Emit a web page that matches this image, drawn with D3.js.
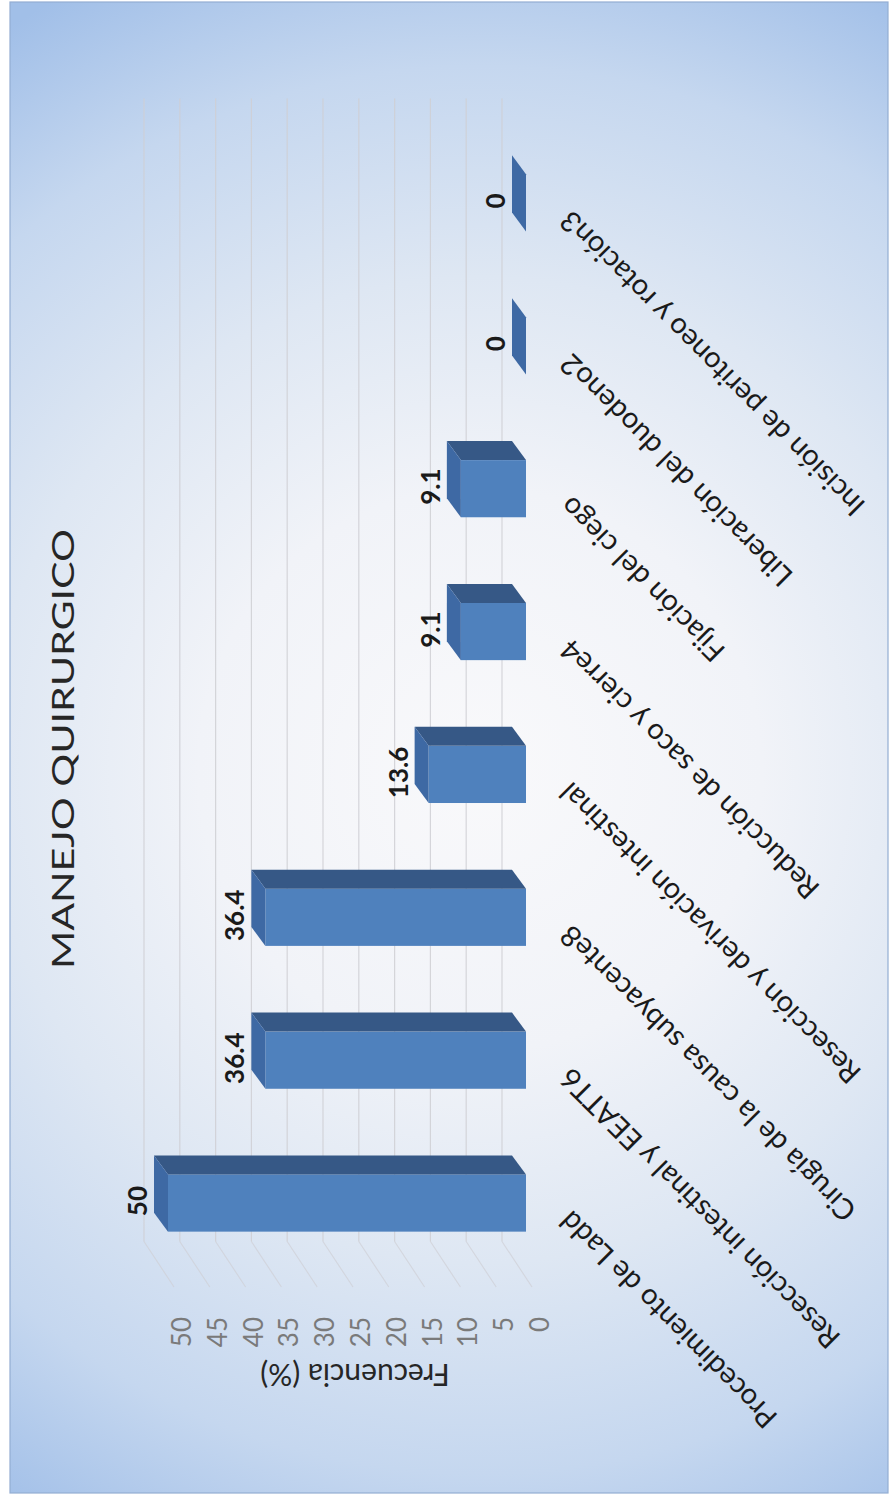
<!DOCTYPE html>
<html>
<head>
<meta charset="utf-8">
<script src="https://cdn.jsdelivr.net/npm/d3@7"></script>
<style>
  html, body { margin: 0; padding: 0; background: #ffffff; }
  svg { display: block; }
</style>
</head>
<body>
<div id="chart"></div>
<script>
// Surgical management frequencies (%)
const categories = [
  "Procedimiento de Ladd",
  "Resección intestinal y EEATT6",
  "Cirugía de la causa subyacente8",
  "Resección y derivación intestinal",
  "Reducción de saco y cierre4",
  "Fijación del ciego",
  "Liberación del duodeno2",
  "Incisión de peritoneo y rotación3"
];
const values = [50, 36.4, 36.4, 13.6, 9.1, 9.1, 0, 0];
const tickValues = [0, 5, 10, 15, 20, 25, 30, 35, 40, 45, 50];
const title = "MANEJO QUIRURGICO";
const axisTitle = "Frecuencia (%)";

const pageW = 891, pageH = 1502;
// The chart is laid out in its own landscape frame (W x H) and turned a quarter turn.
const W = pageH, H = pageW;

const svg = d3.select("#chart").append("svg")
  .attr("width", pageW).attr("height", pageH);

const defs = svg.append("defs");
const bg = defs.append("radialGradient")
  .attr("id", "bgGrad")
  .attr("gradientUnits", "userSpaceOnUse")
  .attr("cx", 480).attr("cy", 770).attr("r", 880);
[[0, "#f9f9fb"], [0.32, "#f1f3f8"], [0.56, "#dee7f3"], [0.8, "#c5d7ef"], [1, "#a1bfe8"]]
  .forEach(([o, c]) => bg.append("stop").attr("offset", o).attr("stop-color", c));

// chart area background and frame
svg.append("rect")
  .attr("x", 10).attr("y", 2).attr("width", 878).attr("height", 1491)
  .attr("fill", "url(#bgGrad)")
  .attr("stroke", "#93add3").attr("stroke-width", 1.2);

const g = svg.append("g")
  .attr("transform", `translate(0,${pageH}) rotate(-90)`);

const font = "Lato, 'Open Sans', 'Liberation Sans', sans-serif";

// scales (front plane of the bars)
const x = d3.scaleBand().domain(categories).range([227.5, 1370.5])
  .paddingInner(0.6).paddingOuter(0.3);
const y = d3.scaleLinear().domain([0, 50]).range([526, 168]);

// oblique depth offsets
const barDX = 19, barDY = -14;   // bar depth
const wallDX = 33, wallDY = -24; // back wall
const wallX0 = x.range()[0] + wallDX;
const wallX1 = x.range()[1] + wallDX;
const sideFrontX = 215, sideFrontDY = 6;

// back wall gridlines
const grid = g.append("g").attr("class", "grid");
grid.selectAll("line.back").data(tickValues).join("line")
  .attr("class", "back")
  .attr("x1", wallX0).attr("x2", wallX1)
  .attr("y1", d => y(d) + wallDY).attr("y2", d => y(d) + wallDY)
  .attr("stroke", "#cfcfd4").attr("stroke-opacity", 0.85).attr("stroke-width", 1.2);
// side wall gridlines
grid.selectAll("line.side").data(tickValues).join("line")
  .attr("class", "side")
  .attr("x1", wallX0).attr("x2", sideFrontX)
  .attr("y1", d => y(d) + wallDY).attr("y2", d => y(d) + sideFrontDY)
  .attr("stroke", "#cfcfd4").attr("stroke-opacity", 0.7).attr("stroke-width", 1.1);

// value axis tick labels
g.append("g").selectAll("text").data(tickValues).join("text")
  .attr("x", 185).attr("y", d => y(d) + 13)
  .attr("text-anchor", "end").attr("dominant-baseline", "central")
  .attr("font-family", font).attr("font-size", 26)
  .attr("fill", "#7a7a7a")
  .text(d => d);

// value axis title
g.append("text")
  .attr("transform", `translate(126,${y(25) + 8}) rotate(-90)`)
  .attr("text-anchor", "middle").attr("dominant-baseline", "central")
  .attr("font-family", font).attr("font-size", 30)
  .attr("fill", "#262626")
  .text(axisTitle);

// 3D bars
const data = categories.map((c, i) => ({ c, v: values[i] }));
const bars = g.append("g").selectAll("g").data(data).join("g");
const bw = x.bandwidth();

bars.append("rect")
  .attr("x", d => x(d.c)).attr("y", d => y(d.v))
  .attr("width", bw).attr("height", d => y(0) - y(d.v))
  .attr("fill", "#4f81bd");

bars.append("path")
  .attr("d", d => {
    const x0 = x(d.c), yv = y(d.v), y0 = y(0);
    return `M${x0 + bw},${yv}L${x0 + bw},${y0}L${x0 + bw + barDX},${y0 + barDY}L${x0 + bw + barDX},${yv + barDY}Z`;
  })
  .attr("fill", "#365886");

bars.append("path")
  .attr("d", d => {
    const x0 = x(d.c), yv = y(d.v);
    return `M${x0},${yv}L${x0 + bw},${yv}L${x0 + bw + barDX},${yv + barDY}L${x0 + barDX},${yv + barDY}Z`;
  })
  .attr("fill", "#3e69a4");

// value labels
bars.append("text")
  .attr("x", d => x(d.c) + bw / 2 + 2)
  .attr("y", d => y(d.v) - 31)
  .attr("text-anchor", "middle").attr("dominant-baseline", "central")
  .attr("font-family", font).attr("font-weight", "bold").attr("font-size", 26)
  .attr("fill", "#1a1a1a")
  .text(d => d.v);

// category labels
g.append("g").selectAll("text").data(categories).join("text")
  .attr("transform", d => `translate(${x(d) + bw / 2 - 6},572) rotate(-45)`)
  .attr("text-anchor", "end")
  .attr("font-family", font).attr("font-size", 29)
  .attr("fill", "#1a1a1a")
  .text(d => d);

// chart title
g.append("text")
  .attr("x", 753).attr("y", 74)
  .attr("text-anchor", "middle")
  .attr("font-family", font).attr("font-size", 30)
  .attr("textLength", 440).attr("lengthAdjust", "spacingAndGlyphs")
  .attr("fill", "#262626")
  .text(title);
</script>
</body>
</html>
